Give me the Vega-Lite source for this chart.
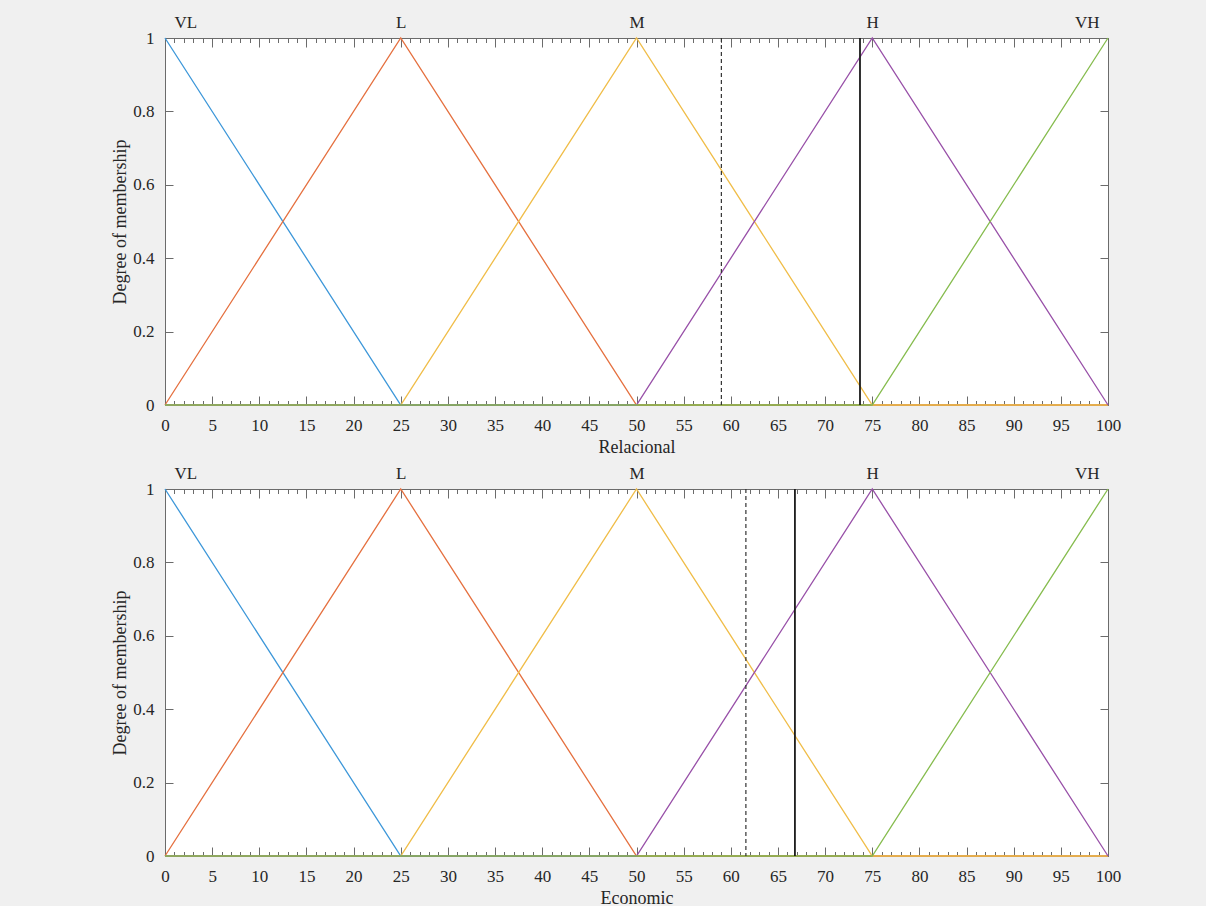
{
  "$schema": "https://vega.github.io/schema/vega-lite/v6.json",
  "background": "#f0f0f0",
  "padding": {"left": 110, "top": 12, "right": 100, "bottom": 5},
  "spacing": 6,
  "datasets": {
    "mfs": [
      {"mf": "VL", "x": 0, "mu": 1}, {"mf": "VL", "x": 25, "mu": 0}, {"mf": "VL", "x": 100, "mu": 0},
      {"mf": "L", "x": 0, "mu": 0}, {"mf": "L", "x": 25, "mu": 1}, {"mf": "L", "x": 50, "mu": 0}, {"mf": "L", "x": 100, "mu": 0},
      {"mf": "M", "x": 0, "mu": 0}, {"mf": "M", "x": 25, "mu": 0}, {"mf": "M", "x": 50, "mu": 1}, {"mf": "M", "x": 75, "mu": 0}, {"mf": "M", "x": 100, "mu": 0},
      {"mf": "H", "x": 0, "mu": 0}, {"mf": "H", "x": 50, "mu": 0}, {"mf": "H", "x": 75, "mu": 1}, {"mf": "H", "x": 100, "mu": 0},
      {"mf": "VH", "x": 0, "mu": 0}, {"mf": "VH", "x": 75, "mu": 0}, {"mf": "VH", "x": 100, "mu": 1}
    ],
    "cuts": [
      {"var": "Relacional", "kind": "dashed", "x": 59.0},
      {"var": "Relacional", "kind": "solid", "x": 73.7},
      {"var": "Economic", "kind": "dashed", "x": 61.6},
      {"var": "Economic", "kind": "solid", "x": 66.8}
    ]
  },
  "vconcat": [
    {
      "width": 943, "height": 367,
      "resolve": {"axis": {"x": "independent", "y": "independent"}},
      "layer": [
        {
          "data": {"name": "mfs"},
          "transform": [{"filter": "datum.mf == 'VL'"}],
          "mark": {"type": "line", "strokeWidth": 1.3},
          "encoding": {
            "x": {"field": "x", "type": "quantitative", "scale": {"domain": [0, 100], "nice": false},
              "axis": {"orient": "bottom", "tickCount": 20, "ticks": false, "labelFlush": false, "labelPadding": 25, "labelBaseline": "alphabetic", "title": "Relacional", "titleY": 47, "titleBaseline": "alphabetic"}},
            "y": {"field": "mu", "type": "quantitative", "scale": {"domain": [0, 1], "nice": false},
              "axis": {"orient": "left", "tickCount": 5, "ticks": false, "labelPadding": 11, "format": "~g", "title": "Degree of membership", "titleAngle": 270, "titleX": -40, "titleY": 183.5, "titleBaseline": "alphabetic"}},
            "color": {"field": "mf", "type": "nominal", "scale": {"domain": ["VL", "L", "M", "H", "VH"], "range": ["#3d97d9", "#e5703f", "#f0bd48", "#9850a8", "#86bc4e"]}, "legend": null}
          }
        },
        {
          "data": {"name": "mfs"},
          "transform": [{"filter": "datum.mf == 'L'"}],
          "mark": {"type": "line", "strokeWidth": 1.3},
          "encoding": {
            "x": {"field": "x", "type": "quantitative", "scale": {"domain": [0, 100], "nice": false},
              "axis": {"orient": "bottom", "tickCount": 20, "labels": false, "tickSize": -9, "title": null}},
            "y": {"field": "mu", "type": "quantitative", "scale": {"domain": [0, 1], "nice": false},
              "axis": {"orient": "left", "tickCount": 5, "labels": false, "tickSize": -8, "title": null}},
            "color": {"field": "mf", "type": "nominal", "legend": null}
          }
        },
        {
          "data": {"name": "mfs"},
          "transform": [{"filter": "datum.mf == 'M'"}],
          "mark": {"type": "line", "strokeWidth": 1.3},
          "encoding": {
            "x": {"field": "x", "type": "quantitative", "scale": {"domain": [0, 100], "nice": false},
              "axis": {"orient": "bottom", "tickCount": 100, "labels": false, "tickSize": -4.5, "title": null}},
            "y": {"field": "mu", "type": "quantitative", "scale": {"domain": [0, 1], "nice": false},
              "axis": {"orient": "right", "tickCount": 5, "labels": false, "tickSize": -8, "title": null}},
            "color": {"field": "mf", "type": "nominal", "legend": null}
          }
        },
        {
          "data": {"name": "mfs"},
          "transform": [{"filter": "datum.mf == 'H'"}],
          "mark": {"type": "line", "strokeWidth": 1.3},
          "encoding": {
            "x": {"field": "x", "type": "quantitative", "scale": {"domain": [0, 100], "nice": false},
              "axis": {"orient": "top", "tickCount": 20, "labels": false, "tickSize": -9, "title": null}},
            "y": {"field": "mu", "type": "quantitative", "scale": {"domain": [0, 1], "nice": false}, "axis": null},
            "color": {"field": "mf", "type": "nominal", "legend": null}
          }
        },
        {
          "data": {"name": "mfs"},
          "transform": [{"filter": "datum.mf == 'VH'"}],
          "mark": {"type": "line", "strokeWidth": 1.3},
          "encoding": {
            "x": {"field": "x", "type": "quantitative", "scale": {"domain": [0, 100], "nice": false},
              "axis": {"orient": "top", "tickCount": 100, "labels": false, "tickSize": -4.5, "title": null}},
            "y": {"field": "mu", "type": "quantitative", "scale": {"domain": [0, 1], "nice": false}, "axis": null},
            "color": {"field": "mf", "type": "nominal", "legend": null}
          }
        },
        {
          "data": {"name": "cuts"},
          "transform": [{"filter": "datum.var == 'Relacional' && datum.kind == 'dashed'"}],
          "mark": {"type": "rule", "color": "#333333", "strokeWidth": 1.2, "strokeDash": [4, 3]},
          "encoding": {
            "x": {"field": "x", "type": "quantitative", "scale": {"domain": [0, 100], "nice": false},
              "axis": {"orient": "top", "values": [0, 25, 50, 75, 100], "ticks": false, "labelFlush": true, "labelFlushOffset": -9, "labelBaseline": "alphabetic", "labelPadding": 11, "labelExpr": "['VL','L','M','H','VH'][round(datum.value / 25)]", "title": null}}
          }
        },
        {
          "data": {"name": "cuts"},
          "transform": [{"filter": "datum.var == 'Relacional' && datum.kind == 'solid'"}],
          "mark": {"type": "rule", "color": "#1a1a1a", "strokeWidth": 1.8},
          "encoding": {
            "x": {"field": "x", "type": "quantitative", "scale": {"domain": [0, 100], "nice": false}, "axis": null}
          }
        }
      ]
    },
    {
      "width": 943, "height": 367,
      "resolve": {"axis": {"x": "independent", "y": "independent"}},
      "layer": [
        {
          "data": {"name": "mfs"},
          "transform": [{"filter": "datum.mf == 'VL'"}],
          "mark": {"type": "line", "strokeWidth": 1.3},
          "encoding": {
            "x": {"field": "x", "type": "quantitative", "scale": {"domain": [0, 100], "nice": false},
              "axis": {"orient": "bottom", "tickCount": 20, "ticks": false, "labelFlush": false, "labelPadding": 25, "labelBaseline": "alphabetic", "title": "Economic", "titleY": 47, "titleBaseline": "alphabetic"}},
            "y": {"field": "mu", "type": "quantitative", "scale": {"domain": [0, 1], "nice": false},
              "axis": {"orient": "left", "tickCount": 5, "ticks": false, "labelPadding": 11, "format": "~g", "title": "Degree of membership", "titleAngle": 270, "titleX": -40, "titleY": 183.5, "titleBaseline": "alphabetic"}},
            "color": {"field": "mf", "type": "nominal", "scale": {"domain": ["VL", "L", "M", "H", "VH"], "range": ["#3d97d9", "#e5703f", "#f0bd48", "#9850a8", "#86bc4e"]}, "legend": null}
          }
        },
        {
          "data": {"name": "mfs"},
          "transform": [{"filter": "datum.mf == 'L'"}],
          "mark": {"type": "line", "strokeWidth": 1.3},
          "encoding": {
            "x": {"field": "x", "type": "quantitative", "scale": {"domain": [0, 100], "nice": false},
              "axis": {"orient": "bottom", "tickCount": 20, "labels": false, "tickSize": -9, "title": null}},
            "y": {"field": "mu", "type": "quantitative", "scale": {"domain": [0, 1], "nice": false},
              "axis": {"orient": "left", "tickCount": 5, "labels": false, "tickSize": -8, "title": null}},
            "color": {"field": "mf", "type": "nominal", "legend": null}
          }
        },
        {
          "data": {"name": "mfs"},
          "transform": [{"filter": "datum.mf == 'M'"}],
          "mark": {"type": "line", "strokeWidth": 1.3},
          "encoding": {
            "x": {"field": "x", "type": "quantitative", "scale": {"domain": [0, 100], "nice": false},
              "axis": {"orient": "bottom", "tickCount": 100, "labels": false, "tickSize": -4.5, "title": null}},
            "y": {"field": "mu", "type": "quantitative", "scale": {"domain": [0, 1], "nice": false},
              "axis": {"orient": "right", "tickCount": 5, "labels": false, "tickSize": -8, "title": null}},
            "color": {"field": "mf", "type": "nominal", "legend": null}
          }
        },
        {
          "data": {"name": "mfs"},
          "transform": [{"filter": "datum.mf == 'H'"}],
          "mark": {"type": "line", "strokeWidth": 1.3},
          "encoding": {
            "x": {"field": "x", "type": "quantitative", "scale": {"domain": [0, 100], "nice": false},
              "axis": {"orient": "top", "tickCount": 20, "labels": false, "tickSize": -9, "title": null}},
            "y": {"field": "mu", "type": "quantitative", "scale": {"domain": [0, 1], "nice": false}, "axis": null},
            "color": {"field": "mf", "type": "nominal", "legend": null}
          }
        },
        {
          "data": {"name": "mfs"},
          "transform": [{"filter": "datum.mf == 'VH'"}],
          "mark": {"type": "line", "strokeWidth": 1.3},
          "encoding": {
            "x": {"field": "x", "type": "quantitative", "scale": {"domain": [0, 100], "nice": false},
              "axis": {"orient": "top", "tickCount": 100, "labels": false, "tickSize": -4.5, "title": null}},
            "y": {"field": "mu", "type": "quantitative", "scale": {"domain": [0, 1], "nice": false}, "axis": null},
            "color": {"field": "mf", "type": "nominal", "legend": null}
          }
        },
        {
          "data": {"name": "cuts"},
          "transform": [{"filter": "datum.var == 'Economic' && datum.kind == 'dashed'"}],
          "mark": {"type": "rule", "color": "#333333", "strokeWidth": 1.2, "strokeDash": [4, 3]},
          "encoding": {
            "x": {"field": "x", "type": "quantitative", "scale": {"domain": [0, 100], "nice": false},
              "axis": {"orient": "top", "values": [0, 25, 50, 75, 100], "ticks": false, "labelFlush": true, "labelFlushOffset": -9, "labelBaseline": "alphabetic", "labelPadding": 11, "labelExpr": "['VL','L','M','H','VH'][round(datum.value / 25)]", "title": null}}
          }
        },
        {
          "data": {"name": "cuts"},
          "transform": [{"filter": "datum.var == 'Economic' && datum.kind == 'solid'"}],
          "mark": {"type": "rule", "color": "#1a1a1a", "strokeWidth": 1.8},
          "encoding": {
            "x": {"field": "x", "type": "quantitative", "scale": {"domain": [0, 100], "nice": false}, "axis": null}
          }
        }
      ]
    }
  ],
  "config": {
    "font": "Liberation Serif",
    "view": {"fill": "white", "stroke": "#6b6b6b", "strokeWidth": 1},
    "axis": {
      "grid": false, "domain": false,
      "labelFont": "Liberation Serif", "titleFont": "Liberation Serif",
      "labelFontSize": 17, "titleFontSize": 18, "titleFontWeight": "normal",
      "labelColor": "#262626", "titleColor": "#262626",
      "tickColor": "#6b6b6b", "tickWidth": 1
    }
  }
}
